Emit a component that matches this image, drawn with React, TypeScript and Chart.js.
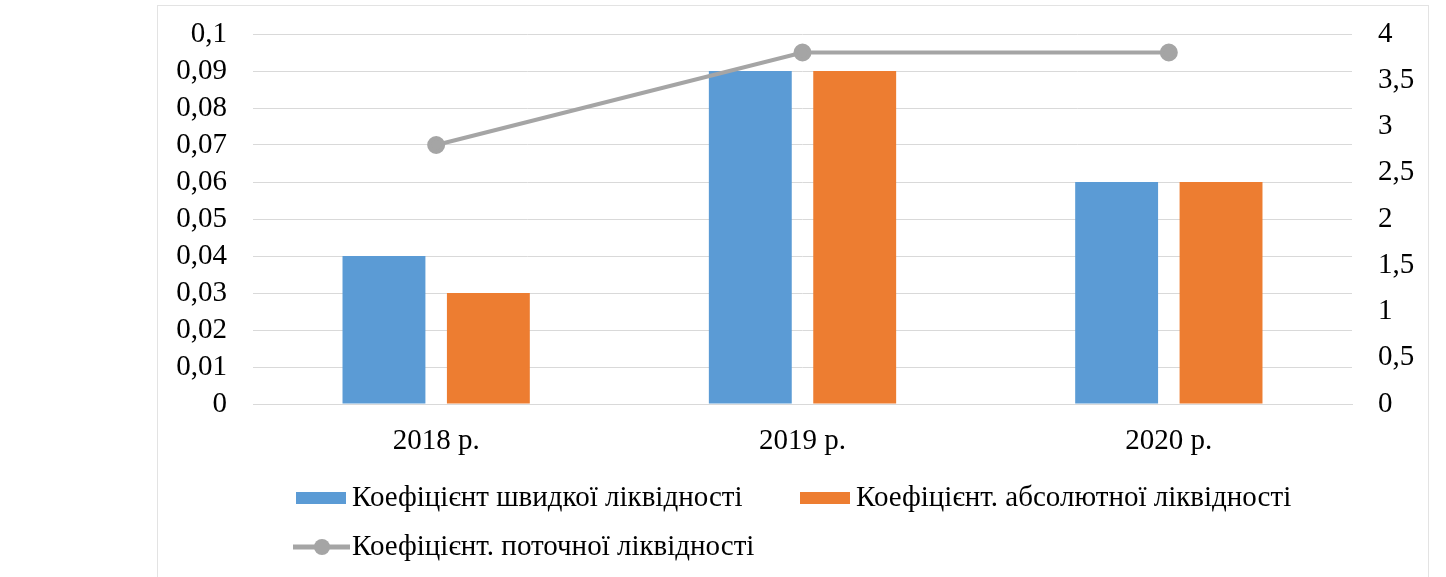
import React, { useEffect, useRef } from "react";
import { Chart, registerables } from "chart.js";

Chart.register(...registerables);

const categories = ["2018 р.", "2019 р.", "2020 р."];
const quickRatio = [0.04, 0.09, 0.06];
const absoluteRatio = [0.03, 0.09, 0.06];
const currentRatio = [2.8, 3.8, 3.8];
const seriesNames = [
  "Коефіцієнт швидкої ліквідності",
  "Коефіцієнт. абсолютної ліквідності",
  "Коефіцієнт. поточної ліквідності",
];

const FONT = "'Liberation Serif', 'Times New Roman', serif";
const FONT_SIZE = 29;

const fmt = (v: number) => String(Math.round(v * 100) / 100).replace(".", ",");

const legendPlugin = {
  id: "customLegend",
  afterDraw(chart: any) {
    const ctx = chart.ctx;
    const slots = [
      { x: 296, y: 498 },
      { x: 800, y: 498 },
      { x: 293, y: 547 },
    ];
    ctx.save();
    ctx.font = `${FONT_SIZE}px ${FONT}`;
    ctx.textBaseline = "middle";
    ctx.fillStyle = "#000";
    chart.data.datasets.forEach((ds: any, i: number) => {
      const s = slots[i];
      if (ds.type === "line") {
        ctx.strokeStyle = ds.borderColor;
        ctx.lineWidth = 5;
        ctx.beginPath();
        ctx.moveTo(s.x, s.y);
        ctx.lineTo(s.x + 57, s.y);
        ctx.stroke();
        ctx.fillStyle = ds.pointBackgroundColor;
        ctx.beginPath();
        ctx.arc(s.x + 29, s.y, 8, 0, Math.PI * 2);
        ctx.fill();
        ctx.fillStyle = "#000";
        ctx.fillText(ds.label, s.x + 59, s.y);
      } else {
        ctx.fillStyle = ds.backgroundColor;
        ctx.fillRect(s.x, s.y - 6, 50, 12);
        ctx.fillStyle = "#000";
        ctx.fillText(ds.label, s.x + 56, s.y);
      }
    });
    ctx.restore();
  },
};

export default function App() {
  const ref = useRef<HTMLCanvasElement | null>(null);
  useEffect(() => {
    if (!ref.current) return;
    const chart = new Chart(ref.current, {
      type: "bar",
      data: {
        labels: categories,
        datasets: [
          {
            type: "bar",
            label: seriesNames[0],
            data: quickRatio,
            backgroundColor: "#5b9bd5",
            yAxisID: "y",
            order: 2,
            categoryPercentage: 0.57,
            barPercentage: 0.794,
          },
          {
            type: "bar",
            label: seriesNames[1],
            data: absoluteRatio,
            backgroundColor: "#ed7d31",
            yAxisID: "y",
            order: 2,
            categoryPercentage: 0.57,
            barPercentage: 0.794,
          },
          {
            type: "line",
            label: seriesNames[2],
            data: currentRatio,
            borderColor: "#a5a5a5",
            backgroundColor: "#a5a5a5",
            pointBackgroundColor: "#a5a5a5",
            pointBorderColor: "#a5a5a5",
            pointRadius: 7,
            borderWidth: 4,
            yAxisID: "y1",
            order: 0,
          } as any,
        ],
      },
      options: {
        animation: false,
        responsive: false,
        maintainAspectRatio: false,
        layout: { padding: { left: 160, right: 16, top: 34, bottom: 0 } },
        plugins: { legend: { display: false }, tooltip: { enabled: false } },
        scales: {
          x: {
            grid: { display: false, drawTicks: false },
            border: { display: true, color: "#d9d9d9" },
            ticks: { color: "#000", font: { family: FONT, size: FONT_SIZE }, padding: 20 },
            afterFit(scale: any) {
              scale.height = 173;
              scale.paddingLeft = 0;
              scale.paddingRight = 0;
            },
          },
          y: {
            position: "left",
            min: 0,
            max: 0.1,
            grid: { color: "#d9d9d9", drawTicks: false },
            border: { display: false },
            ticks: {
              stepSize: 0.01,
              autoSkip: false,
              color: "#000",
              padding: 26,
              font: { family: FONT, size: FONT_SIZE },
              callback: (v: any) => fmt(Number(v)),
            },
            afterFit(scale: any) {
              scale.width = 93;
              scale.paddingTop = 0;
              scale.paddingBottom = 0;
            },
          },
          y1: {
            position: "right",
            min: 0,
            max: 4,
            grid: { drawOnChartArea: false, drawTicks: false },
            border: { display: false },
            ticks: {
              stepSize: 0.5,
              autoSkip: false,
              color: "#000",
              padding: 26,
              font: { family: FONT, size: FONT_SIZE },
              callback: (v: any) => fmt(Number(v)),
            },
            afterFit(scale: any) {
              scale.width = 78;
              scale.paddingTop = 0;
              scale.paddingBottom = 0;
            },
          },
        },
      },
      plugins: [legendPlugin],
    });
    return () => chart.destroy();
  }, []);
  return (
    <div style={{ position: "absolute", left: 0, top: 0, width: 1446, height: 577, background: "#fff" }}>
      <div
        style={{
          position: "absolute",
          left: 157,
          top: 5,
          width: 1272,
          height: 580,
          border: "1px solid #e3e3e3",
          boxSizing: "border-box",
        }}
      />
      <canvas ref={ref} width={1446} height={577} style={{ position: "absolute", left: 0, top: 0 }} />
    </div>
  );
}
